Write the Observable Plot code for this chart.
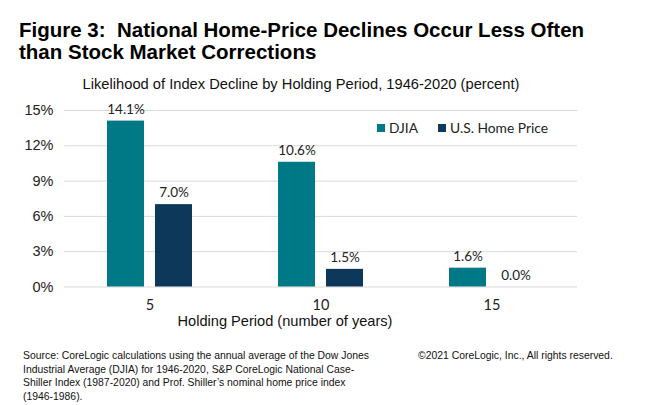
<!DOCTYPE html>
<html>
<head>
<meta charset="utf-8">
<script src="https://cdn.jsdelivr.net/npm/d3@7"></script>
<script src="https://cdn.jsdelivr.net/npm/@observablehq/plot@0.6"></script>
<style>
  html, body { margin: 0; padding: 0; background: #fff; }
  #wrap { position: relative; width: 650px; height: 405px; overflow: hidden; font-family: "Liberation Sans", Arial, sans-serif; color: #111; }
  .abs { position: absolute; white-space: nowrap; }
  #title { left: 19px; top: 19px; font-weight: bold; font-size: 20.5px; line-height: 22px; color: #000; }
  #subtitle { left: 0; width: 602px; text-align: center; top: 76px; font-size: 14.7px; line-height: 17px; color: #111; }
  #chart { left: 0; top: 95px; }
  #xlabel { left: 0; width: 570px; text-align: center; top: 314px; font-size: 14.6px; line-height: 15px; color: #111; }
  #legend { left: 377px; top: 119px; display: flex; align-items: center; font-family: "Liberation Sans Narrow", Lato, sans-serif; font-size: 13.8px; line-height: 17px; color: #222; }
  #legend .item { display: flex; align-items: center; margin-right: 20px; }
  #legend .sw { width: 8px; height: 8px; margin-right: 4px; }
  #source { left: 23px; top: 349px; font-size: 10.4px; line-height: 13.7px; color: #111; }
  #copy { left: 418px; top: 349px; font-size: 10.4px; line-height: 13.7px; color: #111; }
</style>
</head>
<body>
<div id="wrap">
  <div id="title" class="abs">Figure 3:&nbsp; National Home-Price Declines Occur Less Often<br>than Stock Market Corrections</div>
  <div id="subtitle" class="abs">Likelihood of Index Decline by Holding Period, 1946-2020 (percent)</div>
  <div id="chart" class="abs"></div>
  <div id="legend" class="abs"></div>
  <div id="xlabel" class="abs">Holding Period (number of years)</div>
  <div id="source" class="abs">Source: CoreLogic calculations using the annual average of the Dow Jones<br>Industrial Average (DJIA) for 1946-2020, S&amp;P CoreLogic National Case-<br>Shiller Index (1987-2020) and Prof. Shiller’s nominal home price index<br>(1946-1986).</div>
  <div id="copy" class="abs">©2021 CoreLogic, Inc., All rights reserved.</div>
</div>
<script>
const periods = [5, 10, 15];
const series = ["DJIA", "U.S. Home Price"];
const djia = [14.1, 10.6, 1.6];
const homePrice = [7.0, 1.5, 0.0];
const yTicks = [0, 3, 6, 9, 12, 15];
const colors = ["#007986", "#0e385a"];

const rows = [];
periods.forEach((p, i) => {
  rows.push({period: p, series: series[0], value: djia[i]});
  rows.push({period: p, series: series[1], value: homePrice[i]});
});

const narrow = '"Liberation Sans Narrow", Lato, sans-serif';

const chart = Plot.plot({
  width: 650,
  height: 220,
  marginLeft: 63,
  marginRight: 73,
  marginTop: 15,
  marginBottom: 28.5,
  style: {fontFamily: '"Liberation Sans", Arial, sans-serif', color: "#222", background: "transparent"},
  fx: {domain: periods, padding: 0},
  x: {domain: series, paddingInner: 0.22, paddingOuter: 0.855},
  y: {domain: [0, 15]},
  color: {domain: series, range: colors},
  marks: [
    Plot.ruleY(yTicks, {stroke: "#d9d9d9", strokeWidth: 1}),
    Plot.barY(rows, {fx: "period", x: "series", y: "value", fill: "series"}),
    Plot.text(rows, {
      fx: "period", x: "series", y: "value",
      text: d => d.value.toFixed(1) + "%",
      lineAnchor: "bottom", dy: -7.5,
      fontSize: 13.5, fontFamily: narrow, fill: "#222"
    }),
    Plot.axisY({ticks: yTicks, tickFormat: d => d + "%", tickSize: 0, tickPadding: 11, fontSize: 14.5, label: null}),
    Plot.axisFx({anchor: "bottom", tickSize: 0, tickPadding: 12.5, fontSize: 14.5, fontFamily: narrow, label: null}),
    Plot.axisX({ticks: [], label: null})
  ]
});
document.getElementById("chart").appendChild(chart);

const legend = document.getElementById("legend");
series.forEach((s, i) => {
  const item = document.createElement("div");
  item.className = "item";
  const sw = document.createElement("div");
  sw.className = "sw";
  sw.style.background = colors[i];
  const lab = document.createElement("span");
  lab.textContent = s;
  item.appendChild(sw);
  item.appendChild(lab);
  legend.appendChild(item);
});
</script>
</body>
</html>
